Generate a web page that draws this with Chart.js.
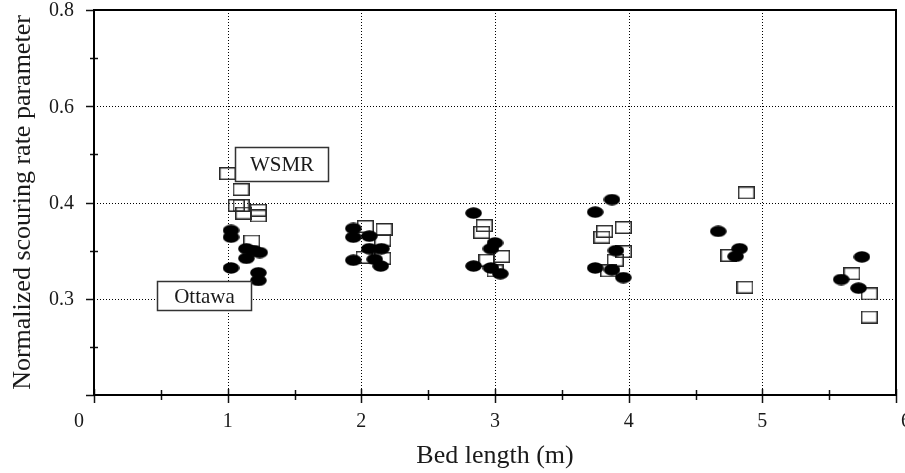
<!DOCTYPE html>
<html>
<head>
<meta charset="utf-8">
<script src="https://cdn.jsdelivr.net/npm/chart.js@4.4.1/dist/chart.umd.min.js"></script>
<style>
  html, body { margin: 0; padding: 0; background: #fff; }
</style>
</head>
<body>
<canvas id="myChart" width="905" height="473"></canvas>
<script>
// axis ticks (the y axis is labelled unevenly: equal steps carry 0.3, 0.4, 0.6, 0.8)
const xTicks = [0, 1, 2, 3, 4, 5, 6];
const yTickValues = [0.2, 0.3, 0.4, 0.6, 0.8];
const yTickLabels = ['', '0.3', '0.4', '0.6', '0.8'];

// WSMR - open squares
const wsmrX = [1.00, 1.10, 1.065, 1.10, 1.12, 1.23, 1.23, 1.18,
               2.03, 2.17, 2.16, 2.02, 2.16,
               2.92, 2.90, 3.05, 2.94, 3.00,
               3.96, 3.82, 3.80, 3.96, 3.90, 3.85,
               4.88, 4.75, 4.87,
               5.67, 5.80, 5.80];
const wsmrY = [0.460, 0.427, 0.397, 0.397, 0.389, 0.392, 0.386, 0.360,
               0.375, 0.372, 0.361, 0.343, 0.342,
               0.376, 0.369, 0.344, 0.340, 0.329,
               0.374, 0.370, 0.364, 0.349, 0.340, 0.329,
               0.420, 0.345, 0.312,
               0.326, 0.305, 0.281];

// Ottawa - filled circles
const ottawaX = [1.025, 1.025, 1.14, 1.195, 1.24, 1.14, 1.025, 1.23, 1.23,
                 1.94, 1.94, 2.06, 2.06, 2.15, 1.94, 2.10, 2.145,
                 2.84, 3.00, 2.97, 2.84, 2.97, 3.04,
                 3.875, 3.75, 3.905, 3.75, 3.875, 3.96,
                 4.67, 4.83, 4.80,
                 5.745, 5.59, 5.72];
const ottawaY = [0.371, 0.364, 0.352, 0.350, 0.348, 0.342, 0.332, 0.327, 0.319,
                 0.373, 0.364, 0.365, 0.352, 0.352, 0.340, 0.341, 0.334,
                 0.389, 0.358, 0.352, 0.334, 0.332, 0.326,
                 0.406, 0.390, 0.350, 0.332, 0.330, 0.322,
                 0.370, 0.352, 0.344,
                 0.3435, 0.320, 0.311];

// value -> position on the evenly spaced y axis
function toAxis(v) {
  for (let i = 0; i < yTickValues.length - 1; i++) {
    const a = yTickValues[i], b = yTickValues[i + 1];
    if (v <= b || i === yTickValues.length - 2) return i + (v - a) / (b - a);
  }
}

function points(xs, ys) {
  return xs.map((x, i) => ({ x: x, y: toAxis(ys[i]) }));
}

function ellipseImg() {
  const c = document.createElement('canvas');
  c.width = 17; c.height = 12;
  const g = c.getContext('2d');
  g.fillStyle = '#000';
  g.beginPath();
  g.ellipse(8.5, 6, 8.3, 5.8, 0, 0, Math.PI * 2);
  g.fill();
  return c;
}
function squareImg() {
  const c = document.createElement('canvas');
  c.width = 17; c.height = 13;
  const g = c.getContext('2d');
  g.strokeStyle = '#2a2a2a';
  g.lineWidth = 1.5;
  g.strokeRect(0.75, 0.75, 15.5, 11.5);
  return c;
}

const serif = '"Liberation Serif", "Times New Roman", serif';

// frame, dotted grid and tick marks
const framePlugin = {
  id: 'frame',
  beforeDatasetsDraw(chart) {
    const { ctx, chartArea: a, scales: { x, y } } = chart;
    ctx.save();
    ctx.strokeStyle = '#000';
    ctx.lineWidth = 1;
    ctx.setLineDash([1, 2]);
    xTicks.slice(1, -1).forEach(t => {
      const px = Math.round(x.getPixelForValue(t)) + 0.5;
      ctx.beginPath(); ctx.moveTo(px, a.top); ctx.lineTo(px, a.bottom); ctx.stroke();
    });
    [1, 2, 3].forEach(t => {
      const py = Math.round(y.getPixelForValue(t)) + 0.5;
      ctx.beginPath(); ctx.moveTo(a.left, py); ctx.lineTo(a.right, py); ctx.stroke();
    });
    ctx.setLineDash([]);
    ctx.lineWidth = 1.5;
    ctx.strokeStyle = '#111';
    for (let t = 0; t <= 6; t += 0.5) {
      const px = Math.round(x.getPixelForValue(t)) + 0.5;
      const major = t % 1 === 0;
      ctx.beginPath();
      ctx.moveTo(px, a.bottom - (major ? 6 : 5));
      ctx.lineTo(px, a.bottom + (major ? 8 : 5));
      ctx.stroke();
    }
    for (let t = 0; t <= 4; t += 0.5) {
      const py = Math.round(y.getPixelForValue(t)) + 0.5;
      const major = t % 1 === 0;
      ctx.beginPath();
      ctx.moveTo(a.left - (major ? 8 : 4), py);
      ctx.lineTo(a.left + (major ? 0 : 4), py);
      ctx.stroke();
    }
    ctx.lineWidth = 2;
    ctx.strokeStyle = '#000';
    ctx.strokeRect(a.left, a.top, a.right - a.left, a.bottom - a.top);
    ctx.restore();
  },
  afterDatasetsDraw(chart) {
    const { ctx, scales: { x, y } } = chart;
    const notes = [
      { text: 'WSMR', x0: 1.054, x1: 1.752, y0: 0.4447, y1: 0.515 },
      { text: 'Ottawa', x0: 0.468, x1: 1.173, y0: 0.2883, y1: 0.3184 }
    ];
    ctx.save();
    notes.forEach(n => {
      const l = Math.round(x.getPixelForValue(n.x0)) + 0.5;
      const r = Math.round(x.getPixelForValue(n.x1)) + 0.5;
      const t = Math.round(y.getPixelForValue(toAxis(n.y1))) + 0.5;
      const b = Math.round(y.getPixelForValue(toAxis(n.y0))) + 0.5;
      ctx.fillStyle = '#fff';
      ctx.fillRect(l, t, r - l, b - t);
      ctx.strokeStyle = '#333';
      ctx.lineWidth = 1.5;
      ctx.strokeRect(l, t, r - l, b - t);
      ctx.fillStyle = '#1a1a1a';
      ctx.font = '21px ' + serif;
      ctx.textAlign = 'center';
      ctx.textBaseline = 'middle';
      ctx.fillText(n.text, (l + r) / 2, (t + b) / 2 + 1);
    });
    ctx.restore();
  }
};

const ctx = document.getElementById('myChart').getContext('2d');
const chart = new Chart(ctx, {
  type: 'scatter',
  data: {
    datasets: [{
      label: 'Ottawa',
      data: points(ottawaX, ottawaY),
      pointStyle: ellipseImg(),
      pointRadius: 8
    }, {
      label: 'WSMR',
      data: points(wsmrX, wsmrY),
      pointStyle: squareImg(),
      pointRadius: 8
    }]
  },
  options: {
    responsive: false,
    animation: false,
    layout: { padding: { top: 10, right: 3, left: 0, bottom: 0 } },
    plugins: { legend: { display: false }, tooltip: { enabled: false } },
    scales: {
      x: {
        type: 'linear',
        min: 0, max: 6,
        grid: { display: false },
        border: { display: false },
        ticks: {
          stepSize: 1,
          padding: 7,
          color: '#1a1a1a',
          font: { family: serif, size: 20 },
          maxRotation: 0,
          callback: v => v === 0 ? '0      ' : (v === 6 ? '    6' : String(v))
        },
        title: {
          display: true,
          text: 'Bed length (m)',
          color: '#1a1a1a',
          font: { family: serif, size: 26 },
          padding: { top: 0, bottom: 1 }
        },
        afterFit(s) { s.height = 78; s.paddingLeft = 0; s.paddingRight = 0; }
      },
      y: {
        type: 'linear',
        min: 0, max: 4,
        grid: { display: false },
        border: { display: false },
        ticks: {
          stepSize: 1,
          padding: 12,
          labelOffset: 1,
          color: '#1a1a1a',
          font: { family: serif, size: 20 },
          callback: v => yTickLabels[v]
        },
        title: {
          display: true,
          text: 'Normalized scouring rate parameter',
          color: '#1a1a1a',
          font: { family: serif, size: 26 },
          padding: { top: 8, bottom: 0 }
        },
        afterFit(s) { s.width = 94; s.paddingTop = 0; s.paddingBottom = 0; }
      }
    }
  },
  plugins: [framePlugin]
});
</script>
</body>
</html>
